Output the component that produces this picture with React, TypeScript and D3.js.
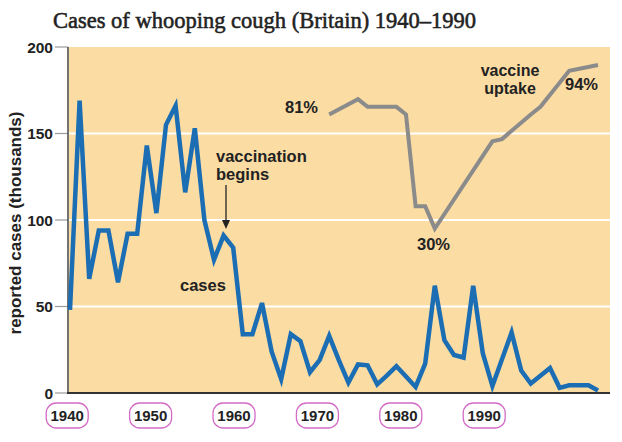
import React from "react";
import * as d3 from "d3";

const title = "Cases of whooping cough (Britain) 1940–1990";
const yLabel = "reported cases (thousands)";
const startYear = 1940;
const endYear = 1995;
// reported cases (thousands), one per year 1940..1995
const cases = [
  48, 169, 66, 94, 94, 64, 92, 92, 143, 104,
  155, 166, 116, 153, 100, 77, 91, 84, 34, 34,
  52, 24, 8, 34, 30, 12, 19, 33, 19, 6,
  16.5, 16, 5, 10, 15.5, 9.5, 3.5, 17, 62, 30.5,
  22, 20.5, 62, 23, 4, 19.5, 35, 13, 5.5, 10,
  14.5, 3, 4.5, 4.5, 4.5, 1.5,
];
// vaccine uptake (%)
const uptakeYears = [1967, 1970, 1971, 1974, 1975, 1976, 1977, 1978, 1984, 1985, 1988, 1989, 1992, 1995];
const uptake = [81, 85, 83, 83, 81, 40, 40, 30, 69, 70, 81, 83, 92.5, 94];
const yTicks = [0, 50, 100, 150, 200];
const gridValues = [50, 100, 150];
const decadeLabels = ["1940", "1950", "1960", "1970", "1980", "1990"];

const W = 622;
const H = 442;
const plot = { left: 69, right: 610, top: 47, bottom: 393 };

export default function App() {
  const years = d3.range(startYear, endYear + 1);
  const x = d3.scaleLinear().domain([startYear, endYear]).range([70, 598]);
  const y = d3.scaleLinear().domain([0, 200]).range([plot.bottom, plot.top]);
  // uptake percent drawn on an illustrative (non-linear) scale as in the original
  const uptakeScale = d3.scaleLinear().domain([30, 81, 94]).range([y(95), y(161), y(189.6)]);
  const labelX = d3.scalePoint<string>().domain(decadeLabels).range([67.2, 484.2]);

  const caseLine = d3
    .line<number>()
    .x((_, i) => x(years[i]))
    .y((d) => y(d));
  const uptakeLine = d3
    .line<number>()
    .x((_, i) => x(uptakeYears[i]))
    .y((d) => uptakeScale(d));

  const sans = "'Liberation Sans', Arial, sans-serif";
  const annot = { fontFamily: sans, fontWeight: 700, fontSize: 16.5, fill: "#222" } as const;

  return (
    <svg width={W} height={H} style={{ position: "absolute", left: 0, top: 0, background: "#fff" }}>
      <text
        x={53}
        y={28}
        fontFamily="'Liberation Serif', 'Times New Roman', serif"
        fontWeight={400}
        fontSize={22.5}
        fill="#222"
        stroke="#222"
        strokeWidth={0.55}
      >
        {title}
      </text>
      <rect x={plot.left} y={plot.top} width={plot.right - plot.left} height={plot.bottom - plot.top} fill="#fbdca3" />
      {gridValues.map((g) => (
        <line key={g} x1={plot.left} x2={plot.right} y1={y(g)} y2={y(g)} stroke="#fff" strokeWidth={2} />
      ))}
      {yTicks.map((t) => (
        <g key={t}>
          <line x1={55} x2={68} y1={y(t)} y2={y(t)} stroke="#999" strokeWidth={1.2} />
          <text x={53} y={y(t)} dy="0.36em" textAnchor="end" fontFamily={sans} fontWeight={700} fontSize={15.5} fill="#222">
            {t}
          </text>
        </g>
      ))}
      <line x1={68} x2={68} y1={plot.top} y2={plot.bottom + 1} stroke="#444" strokeWidth={1.5} />
      <line x1={67} x2={plot.right} y1={plot.bottom} y2={plot.bottom} stroke="#333" strokeWidth={2.2} />
      <text
        transform={`translate(21, 223) rotate(-90)`}
        textAnchor="middle"
        fontFamily={sans}
        fontWeight={700}
        fontSize={17}
        fill="#222"
      >
        {yLabel}
      </text>
      {decadeLabels.map((d) => (
        <g key={d} transform={`translate(${labelX(d)}, 415.5)`}>
          <rect x={-21} y={-12.5} width={42} height={25} rx={10} ry={10} fill="#fff" stroke="#d36cc6" strokeWidth={1.3} />
          <text textAnchor="middle" dy="0.36em" fontFamily={sans} fontWeight={700} fontSize={15} fill="#222">
            {d}
          </text>
        </g>
      ))}
      <path d={uptakeLine(uptake) ?? ""} fill="none" stroke="#8b8b8b" strokeWidth={4} strokeLinejoin="miter" />
      <path d={caseLine(cases) ?? ""} fill="none" stroke="#1b6db4" strokeWidth={4.5} strokeLinejoin="miter" />
      <text x={216} y={162} {...annot}>vaccination</text>
      <text x={216} y={180} {...annot}>begins</text>
      <line x1={226} x2={226} y1={185} y2={222} stroke="#222" strokeWidth={1.3} />
      <path d="M222,220 L230,220 L226,229 Z" fill="#222" />
      <text x={180} y={291} {...annot}>cases</text>
      <text x={285} y={113} {...annot}>81%</text>
      <text x={417} y={250} {...annot}>30%</text>
      <text x={565} y={90} {...annot}>94%</text>
      <text x={510} y={76} textAnchor="middle" {...annot} fontSize={16}>vaccine</text>
      <text x={510} y={94} textAnchor="middle" {...annot} fontSize={16}>uptake</text>
    </svg>
  );
}
